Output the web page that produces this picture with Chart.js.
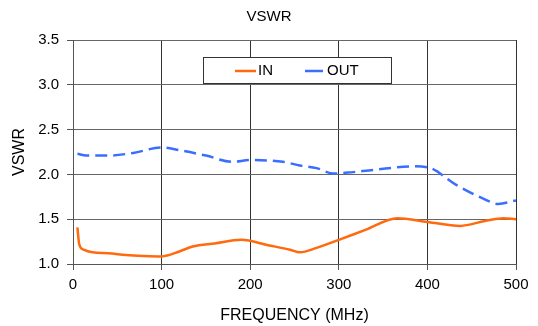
<!DOCTYPE html>
<html>
<head>
<meta charset="utf-8">
<script src="https://cdn.jsdelivr.net/npm/chart.js@4/dist/chart.umd.min.js"></script>
<style>
html,body{margin:0;padding:0;background:#fff;}
#wrap{width:538px;height:326px;}
</style>
</head>
<body>
<div id="wrap"><canvas id="c" width="538" height="326"></canvas></div>
<script>
const chartTitle = 'VSWR';
const xTitle = 'FREQUENCY (MHz)';
const yTitle = 'VSWR';
const seriesNames = ['IN', 'OUT'];

const freqIn = [5, 7, 12, 22, 40, 60, 80, 100, 120, 135, 160, 190, 220, 245, 256, 275, 300, 330, 366, 400, 437, 465, 486, 500];
const vswrIn = [1.41, 1.22, 1.16, 1.13, 1.12, 1.10, 1.09, 1.085, 1.14, 1.195, 1.23, 1.27, 1.21, 1.16, 1.13, 1.18, 1.27, 1.38, 1.51, 1.47, 1.425, 1.48, 1.51, 1.50];

const freqOut = [5, 15, 40, 68, 100, 120, 150, 180, 200, 237, 256, 275, 294, 310, 339, 384, 400, 433, 463, 480, 500];
const vswrOut = [2.23, 2.21, 2.21, 2.24, 2.30, 2.27, 2.21, 2.14, 2.16, 2.14, 2.10, 2.07, 2.01, 2.02, 2.05, 2.09, 2.08, 1.88, 1.73, 1.67, 1.71];

const FONT = "'Liberation Sans', Arial, sans-serif";
const COL_IN = '#FF6A0E';
const COL_OUT = '#3A6EFF';

const pts = (xs, ys) => xs.map((x, i) => ({x: x, y: ys[i]}));

const legendBox = {
  id: 'legendBox',
  afterDatasetsDraw(chart) {
    const ctx = chart.ctx;
    const a = chart.chartArea;
    const left = a.left + 130, top = a.top + 17, w = 188, h = 26;
    ctx.save();
    ctx.fillStyle = '#fff';
    ctx.fillRect(left, top, w, h);
    ctx.strokeStyle = '#333';
    ctx.lineWidth = 1;
    ctx.strokeRect(left + 0.5, top + 0.5, w, h);
    const cy = top + 14;
    ctx.font = '15px ' + FONT;
    ctx.textBaseline = 'middle';
    ctx.fillStyle = '#000';
    const ds = chart.data.datasets;
    ctx.strokeStyle = ds[0].borderColor; ctx.lineWidth = 2.5;
    ctx.beginPath(); ctx.moveTo(left + 32, cy); ctx.lineTo(left + 53, cy); ctx.stroke();
    ctx.fillText(ds[0].label, left + 55, cy);
    ctx.strokeStyle = ds[1].borderColor;
    ctx.beginPath(); ctx.moveTo(left + 102, cy); ctx.lineTo(left + 120, cy); ctx.stroke();
    ctx.fillText(ds[1].label, left + 124, cy);
    ctx.restore();
  }
};

new Chart(document.getElementById('c'), {
  type: 'line',
  data: {
    datasets: [
      {label: seriesNames[0], data: pts(freqIn, vswrIn), borderColor: COL_IN, borderWidth: 2.5,
       pointRadius: 0, cubicInterpolationMode: 'monotone', fill: false},
      {label: seriesNames[1], data: pts(freqOut, vswrOut), borderColor: COL_OUT, borderWidth: 2.5,
       borderDash: [12, 6], pointRadius: 0, cubicInterpolationMode: 'monotone', fill: false}
    ]
  },
  options: {
    responsive: false,
    animation: false,
    layout: {padding: 0},
    plugins: {
      legend: {display: false},
      tooltip: {enabled: false},
      title: {display: true, text: chartTitle, color: '#000',
              font: {family: FONT, size: 15, weight: 'normal'}, padding: {top: 8, bottom: 14}}
    },
    scales: {
      x: {
        type: 'linear', min: 0, max: 500,
        ticks: {stepSize: 100, color: '#000', font: {family: FONT, size: 15}, padding: 6, maxRotation: 0},
        grid: {color: '#333', lineWidth: 1, tickLength: 6, tickColor: '#555'},
        border: {color: '#555', width: 1},
        title: {display: true, text: xTitle, color: '#000', font: {family: FONT, size: 16}, padding: {top: 2, bottom: 1}},
        afterFit(s) { s.height = 62; }
      },
      y: {
        min: 1, max: 3.5,
        ticks: {stepSize: 0.5, color: '#000', font: {family: FONT, size: 15}, padding: 8,
                callback: v => v.toFixed(1)},
        grid: {color: '#666', lineWidth: 1, tickLength: 6, tickColor: '#555'},
        border: {color: '#555', width: 1},
        title: {display: true, text: yTitle, color: '#000', font: {family: FONT, size: 16}, padding: {top: 10, bottom: 0}},
        afterFit(s) { s.width = 73; }
      },
      yR: {
        position: 'right', min: 1, max: 3.5, display: true,
        ticks: {display: false}, grid: {display: false, drawTicks: false}, border: {display: false},
        afterFit(s) { s.width = 22; }
      }
    }
  },
  plugins: [legendBox]
});
</script>
</body>
</html>
